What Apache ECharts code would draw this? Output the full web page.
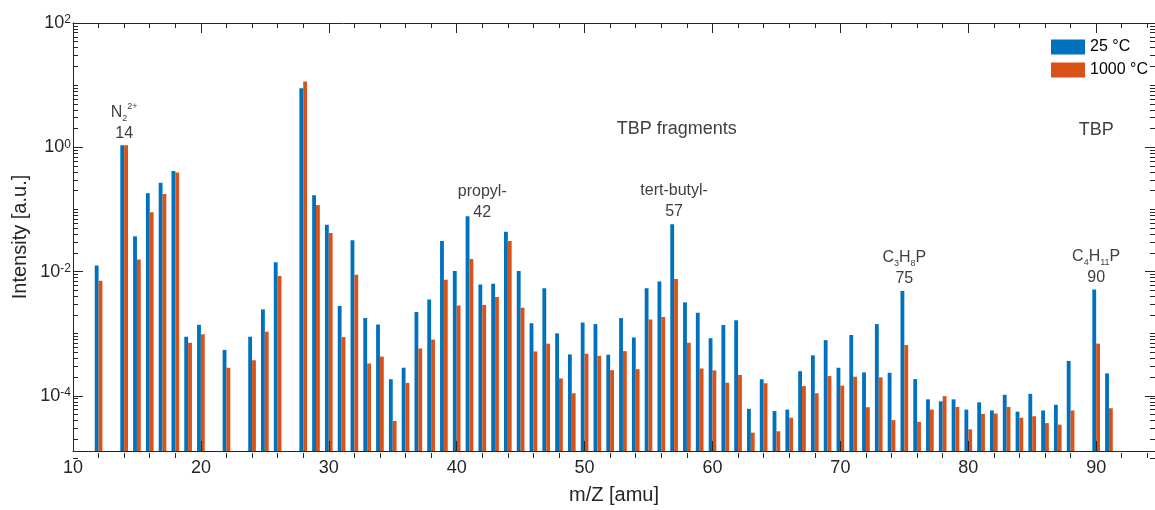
<!DOCTYPE html>
<html>
<head>
<meta charset="utf-8">
<script src="https://cdn.jsdelivr.net/npm/echarts/dist/echarts.min.js"></script>
<style>html,body{margin:0;padding:0;background:#fff}#c{width:1155px;height:510px}</style>
</head>
<body>
<div id="c"></div>
<script>
// ---------------- data ----------------
const massNumbers = [12,14,15,16,17,18,19,20,22,24,25,26,
  28,29,30,31,32,33,34,35,36,37,38,39,40,41,42,43,44,45,46,47,48,49,
  50,51,52,53,54,55,56,57,58,59,60,61,62,63,64,65,66,67,68,69,
  70,71,72,73,74,75,76,77,78,79,80,81,82,83,84,85,86,87,88,90,91];
const intensity25C = [0.0108,1.0,0.0324,0.164,0.244,0.381,7.4e-4,1.16e-3,4.5e-4,7.4e-4,2.07e-3,0.0122,
  8.6,0.152,0.050,2.35e-3,0.0279,1.5e-3,1.17e-3,1.49e-4,2.3e-4,1.88e-3,3.0e-3,0.0272,8.8e-3,0.069,5.3e-3,5.45e-3,0.0385,8.8e-3,1.23e-3,4.6e-3,8.4e-4,3.8e-4,
  1.26e-3,1.19e-3,3.76e-4,1.49e-3,7.2e-4,4.6e-3,5.9e-3,0.0513,2.7e-3,1.83e-3,7.0e-4,1.15e-3,1.38e-3,4.9e-5,1.49e-4,4.5e-5,4.75e-5,2.02e-4,3.67e-4,6.5e-4,
  2.3e-4,7.9e-4,1.93e-4,1.19e-3,1.9e-4,4.15e-3,1.5e-4,7.0e-5,6.5e-5,7.0e-5,4.75e-5,6.25e-5,4.6e-5,8.3e-5,4.4e-5,8.6e-5,4.6e-5,5.7e-5,2.97e-4,4.37e-3,1.86e-4];
const intensity1000C = [6.1e-3,1.0,0.0136,0.080,0.160,0.358,5.9e-4,8.1e-4,2.3e-4,3.05e-4,8.95e-4,7.3e-3,
  11.0,0.105,0.0367,7.3e-4,7.6e-3,2.7e-4,3.5e-4,3.1e-5,1.3e-4,4.75e-4,6.65e-4,6.3e-3,2.4e-3,0.0138,2.44e-3,3.3e-3,0.0272,2.2e-3,4.25e-4,5.7e-4,1.54e-4,8.8e-5,
  3.9e-4,3.6e-4,2.1e-4,4.3e-4,2.18e-4,1.42e-3,1.56e-3,6.5e-3,5.9e-4,2.24e-4,2.08e-4,1.31e-4,1.75e-4,2.0e-5,1.28e-4,2.1e-5,3.5e-5,1.15e-4,8.8e-5,1.68e-4,
  1.17e-4,1.64e-4,5.2e-5,1.6e-4,3.2e-5,5.4e-4,3.0e-5,4.75e-5,7.9e-5,5.25e-5,2.26e-5,4.05e-5,4.1e-5,5.25e-5,3.5e-5,3.7e-5,2.86e-5,2.7e-5,4.6e-5,5.7e-4,5.0e-5];
const seriesNames = ['25 °C', '1000 °C'];
const xTickLabels = [10,20,30,40,50,60,70,80,90];
const yTickDecades = [-4,-2,0,2];
const annotationTexts = ['N{sub|2}{sup|2+}\n14', 'propyl-\n42', 'tert-butyl-\n57',
  'C{sub|3}H{sub|8}P\n75', 'C{sub|4}H{sub|11}P\n90', '{big|TBP fragments}', '{big|TBP}'];
// annotation anchors (data coordinates: m/Z, intensity)
const annotationMz = [14, 42, 57, 75, 90, 57.2, 90];
const annotationLevel = [2.3, 0.117, 0.12, 9.8e-3, 0.0101, 1.86, 1.8];

// ---------------- layout / style ----------------
const X_MIN = 10, X_MAX = 94.6, Y_MIN = 1e-5, Y_MAX = 100;
const BAR_W = 0.3;
const AXIS_COLOR = '#262626';
const TEXT_COLOR = '#404040';
const COLORS = ['#0072BD', '#D95319'];
const FONT = '"Liberation Sans", Arial, Helvetica, sans-serif';
const GRID = {left: 73, top: 23, width: 1083, height: 435};

const xMinorTicks = [];
for (let v = 12; v <= 94; v += 2) if (v % 10) xMinorTicks.push(v);
const yMinorTicks = [];
for (let d = -5; d < 2; d++) {
  if (d % 2) yMinorTicks.push(d);
  for (let k = 2; k <= 9; k++) yMinorTicks.push(d + Math.log10(k));
}

function barItem(side) {
  return function (params, api) {
    const x = api.value(0), v = api.value(1);
    const x0 = side < 0 ? x - BAR_W : x;
    const x1 = side < 0 ? x : x + BAR_W;
    const pTop = api.coord([x0, v]);
    const pBot = api.coord([x1, Y_MIN]);
    return {
      type: 'rect',
      shape: {x: pTop[0], y: pTop[1], width: pBot[0] - pTop[0], height: pBot[1] - pTop[1]},
      style: {fill: api.visual('color')}
    };
  };
}

function annotItem(params, api) {
  const p = api.coord([api.value(0), api.value(1)]);
  return {
    type: 'text', x: p[0], y: p[1],
    style: {
      text: annotationTexts[api.value(2)],
      fill: TEXT_COLOR, fontSize: 16, fontFamily: FONT, lineHeight: 21,
      align: 'center', verticalAlign: 'middle',
      rich: {
        sub: {fontSize: 9, verticalAlign: 'bottom', fill: TEXT_COLOR, fontFamily: FONT},
        sup: {fontSize: 9, verticalAlign: 'top', fill: TEXT_COLOR, fontFamily: FONT},
        big: {fontSize: 18, fill: TEXT_COLOR, fontFamily: FONT}
      }
    }
  };
}

const lineStyle = {color: AXIS_COLOR, width: 1};
function xAx(grid, pos, ticks, len, labels, extra) {
  return Object.assign({
    gridIndex: grid, type: 'value', min: X_MIN, max: X_MAX, position: pos, z: 10,
    axisLine: {show: !!labels || grid === 0, onZero: false, lineStyle},
    axisTick: {show: true, inside: true, length: len, customValues: ticks, lineStyle},
    axisLabel: labels ? {show: true, customValues: xTickLabels, margin: 8, fontSize: 18, color: AXIS_COLOR, fontFamily: FONT} : {show: false},
    splitLine: {show: false}
  }, extra || {});
}
function yExp(grid, pos, ticks, len, labels) {
  return {
    gridIndex: grid, type: 'value', min: -5, max: 2, position: pos, z: 10,
    axisLine: {show: false, onZero: false},
    axisTick: {show: true, inside: true, length: len, customValues: ticks, lineStyle},
    axisLabel: labels ? {
      show: true, customValues: yTickDecades, margin: 2,
      formatter: v => '{b|10}{s|' + Math.round(v) + '}',
      rich: {b: {fontSize: 18, color: AXIS_COLOR, fontFamily: FONT, lineHeight: 18},
             s: {fontSize: 12, color: AXIS_COLOR, fontFamily: FONT, verticalAlign: 'top', lineHeight: 18}}
    } : {show: false},
    splitLine: {show: false}
  };
}

const chart = echarts.init(document.getElementById('c'), null, {renderer: 'canvas'});
chart.setOption({
  animation: false,
  backgroundColor: '#fff',
  textStyle: {fontFamily: FONT},
  grid: [Object.assign({}, GRID), Object.assign({}, GRID), Object.assign({}, GRID)],
  legend: {
    data: seriesNames, orient: 'vertical', left: 1051, top: 39,
    icon: 'rect', itemWidth: 34, itemHeight: 15, itemGap: 7, padding: 0,
    textStyle: {fontSize: 16, color: '#000', fontFamily: FONT}
  },
  xAxis: [
    xAx(0, 'bottom', xTickLabels, 10, true, {
      name: 'm/Z [amu]', nameLocation: 'middle', nameGap: 34,
      nameTextStyle: {fontSize: 20, color: AXIS_COLOR, fontFamily: FONT}}),
    xAx(0, 'top', xTickLabels, 10, false),
    xAx(1, 'bottom', xMinorTicks, 5, false),
    xAx(1, 'top', xMinorTicks, 5, false),
    {gridIndex: 2, type: 'value', min: X_MIN, max: X_MAX, show: false}
  ],
  yAxis: [
    {gridIndex: 0, type: 'log', logBase: 10, min: Y_MIN, max: Y_MAX, position: 'left', z: 10,
     axisLine: {show: true, onZero: false, lineStyle}, axisTick: {show: false}, axisLabel: {show: false},
     splitLine: {show: false}, minorTick: {show: false},
     name: 'Intensity [a.u.]', nameLocation: 'middle', nameGap: 43,
     nameTextStyle: {fontSize: 20, color: AXIS_COLOR, fontFamily: FONT}},
    {gridIndex: 0, type: 'log', logBase: 10, min: Y_MIN, max: Y_MAX, position: 'right', z: 10,
     axisLine: {show: true, onZero: false, lineStyle}, axisTick: {show: false}, axisLabel: {show: false},
     splitLine: {show: false}},
    yExp(1, 'left', yTickDecades, 10, true),
    yExp(1, 'right', yTickDecades, 10, false),
    yExp(2, 'left', yMinorTicks, 5, false),
    yExp(2, 'right', yMinorTicks, 5, false)
  ],
  series: [
    {type: 'custom', name: seriesNames[0], xAxisIndex: 0, yAxisIndex: 0, z: 2, clip: true,
     itemStyle: {color: COLORS[0]}, encode: {x: 0, y: 1},
     data: massNumbers.map((m, i) => [m, intensity25C[i]]), renderItem: barItem(-1)},
    {type: 'custom', name: seriesNames[1], xAxisIndex: 0, yAxisIndex: 0, z: 2, clip: true,
     itemStyle: {color: COLORS[1]}, encode: {x: 0, y: 1},
     data: massNumbers.map((m, i) => [m, intensity1000C[i]]), renderItem: barItem(1)},
    {type: 'custom', name: 'annotations', xAxisIndex: 0, yAxisIndex: 0, z: 5, silent: true,
     encode: {x: 0, y: 1},
     data: annotationMz.map((m, i) => [m, annotationLevel[i], i]), renderItem: annotItem}
  ]
});
</script>
</body>
</html>
